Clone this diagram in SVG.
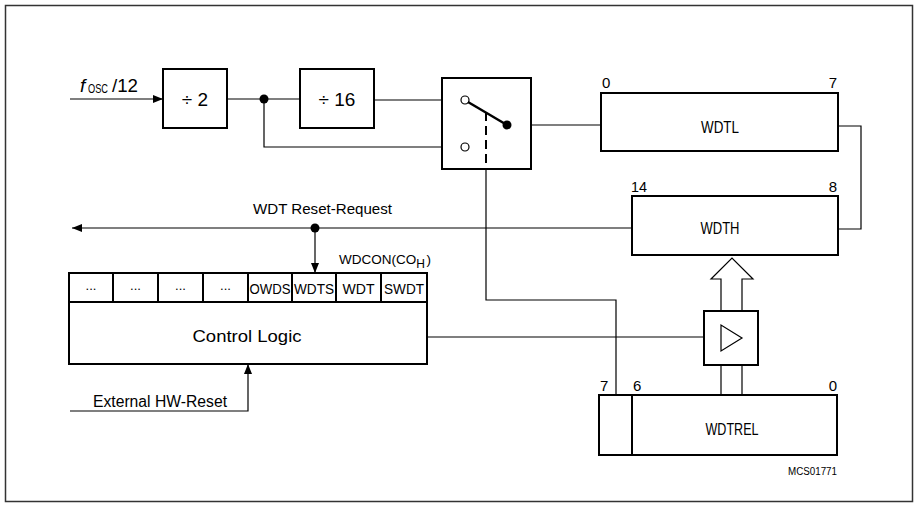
<svg xmlns="http://www.w3.org/2000/svg" width="921" height="505" viewBox="0 0 921 505">
<defs>
<style>
.box{fill:#fff;stroke:#000;stroke-width:2}
.ln{fill:none;stroke:#000;stroke-width:1.2}
.t{font-family:"Liberation Sans",Arial,sans-serif;fill:#000}
</style>
<marker id="ah" viewBox="0 0 10 8" refX="10" refY="4" markerWidth="10" markerHeight="8" markerUnits="userSpaceOnUse" orient="auto">
<path d="M0,0 L10,4 L0,8 Z" fill="#000"/>
</marker>
</defs>
<rect x="0" y="0" width="921" height="505" fill="#fff"/>
<rect x="5.5" y="5.5" width="907" height="496" fill="none" stroke="#333" stroke-width="1.5"/>

<g id="connectors">
<line class="ln" x1="70" y1="99" x2="163" y2="99" marker-end="url(#ah)"/>
<line class="ln" x1="227" y1="99" x2="300" y2="99"/>
<polyline class="ln" points="264,99 264,147 461,147"/>
<line class="ln" x1="374" y1="100" x2="461" y2="100"/>
<line class="ln" x1="507" y1="125" x2="601" y2="125"/>
<polyline class="ln" points="838,126 861,126 861,229 838,229"/>
<line class="ln" x1="632" y1="228" x2="72" y2="228" marker-end="url(#ah)"/>
<line class="ln" x1="315" y1="228" x2="315" y2="273" marker-end="url(#ah)"/>
<polyline class="ln" points="486,169 486,300 616,300 616,395"/>
<line class="ln" x1="427" y1="337" x2="704" y2="337"/>
<polyline class="ln" points="70,411 248,411 248,364" marker-end="url(#ah)"/>
<path d="M721,311 L721,279 L711,279 L732,258 L753,279 L742,279 L742,311" fill="#fff" stroke="#000" stroke-width="1.2"/>
<line class="ln" x1="721" y1="365" x2="721" y2="395"/>
<line class="ln" x1="742" y1="365" x2="742" y2="395"/>
<circle cx="264" cy="99" r="4.5" fill="#000"/>
<circle cx="315" cy="228" r="4.5" fill="#000"/>
</g>

<g id="input-label">
<text class="t" x="80" y="92" font-size="19" font-style="italic">f</text>
<text class="t" x="88" y="93" font-size="12" textLength="20" lengthAdjust="spacingAndGlyphs">OSC</text>
<text class="t" x="112" y="92" font-size="18" textLength="26" lengthAdjust="spacingAndGlyphs">/12</text>
</g>

<g id="div2">
<rect class="box" x="163" y="69" width="64" height="59"/>
<text class="t" x="195" y="106" font-size="19" text-anchor="middle">÷ 2</text>
</g>

<g id="div16">
<rect class="box" x="300" y="69" width="74" height="59"/>
<text class="t" x="337" y="106" font-size="19" text-anchor="middle">÷ 16</text>
</g>

<g id="switch">
<rect class="box" x="442" y="78" width="89" height="91"/>
<line x1="486" y1="112" x2="486" y2="169" stroke="#000" stroke-width="2" stroke-dasharray="9,5"/>
<circle cx="465" cy="100" r="4" fill="#fff" stroke="#000" stroke-width="1.2"/>
<circle cx="465" cy="147" r="4" fill="#fff" stroke="#000" stroke-width="1.2"/>
<line x1="468" y1="102" x2="507" y2="125" stroke="#000" stroke-width="2.5"/>
<circle cx="507" cy="125" r="4.5" fill="#000"/>
</g>

<g id="wdtl">
<rect class="box" x="601" y="93" width="237" height="58"/>
<text class="t" x="720" y="133" font-size="16" text-anchor="middle" textLength="38" lengthAdjust="spacingAndGlyphs">WDTL</text>
<text class="t" x="602" y="88" font-size="15">0</text>
<text class="t" x="837" y="88" font-size="15" text-anchor="end">7</text>
</g>

<g id="wdth">
<rect class="box" x="632" y="196" width="206" height="59"/>
<text class="t" x="720" y="234" font-size="16" text-anchor="middle" textLength="39" lengthAdjust="spacingAndGlyphs">WDTH</text>
<text class="t" x="631" y="192" font-size="15" textLength="16" lengthAdjust="spacingAndGlyphs">14</text>
<text class="t" x="837" y="192" font-size="15" text-anchor="end">8</text>
</g>

<g id="reset-label">
<text class="t" x="253" y="214" font-size="15" textLength="139" lengthAdjust="spacingAndGlyphs">WDT  Reset-Request</text>
</g>

<g id="wdcon">
<text class="t" x="339" y="264" font-size="13.5">WDCON(CO<tspan dy="4" font-size="12">H</tspan><tspan dx="1.5" dy="-4">)</tspan></text>
<rect class="box" x="69" y="273" width="358" height="91"/>
<line x1="69" y1="302" x2="427" y2="302" stroke="#000" stroke-width="2"/>
<g stroke="#000" stroke-width="2">
<line x1="113" y1="273" x2="113" y2="302"/>
<line x1="158" y1="273" x2="158" y2="302"/>
<line x1="203" y1="273" x2="203" y2="302"/>
<line x1="248" y1="273" x2="248" y2="302"/>
<line x1="292" y1="273" x2="292" y2="302"/>
<line x1="336" y1="273" x2="336" y2="302"/>
<line x1="381" y1="273" x2="381" y2="302"/>
</g>
<g class="t" font-size="13" text-anchor="middle">
<text x="91" y="290">...</text>
<text x="135.5" y="290">...</text>
<text x="180.5" y="290">...</text>
<text x="225.5" y="290">...</text>
</g>
<text class="t" x="270" y="294" font-size="14" text-anchor="middle" textLength="41" lengthAdjust="spacingAndGlyphs">OWDS</text>
<text class="t" x="314" y="294" font-size="14" text-anchor="middle" textLength="40" lengthAdjust="spacingAndGlyphs">WDTS</text>
<text class="t" x="358.5" y="294" font-size="14" text-anchor="middle" textLength="32" lengthAdjust="spacingAndGlyphs">WDT</text>
<text class="t" x="404" y="294" font-size="14" text-anchor="middle" textLength="40" lengthAdjust="spacingAndGlyphs">SWDT</text>
<text class="t" x="247" y="342" font-size="17" text-anchor="middle" textLength="109" lengthAdjust="spacingAndGlyphs">Control  Logic</text>
</g>

<g id="ext-reset">
<text class="t" x="93" y="407" font-size="16" textLength="134" lengthAdjust="spacingAndGlyphs">External  HW-Reset</text>
</g>

<g id="buffer">
<rect class="box" x="704" y="311" width="54" height="54"/>
<polygon points="721,325 721,351 742,338" fill="none" stroke="#000" stroke-width="1.2"/>
</g>

<g id="wdtrel">
<rect class="box" x="599" y="395" width="238" height="60"/>
<line x1="632" y1="395" x2="632" y2="455" stroke="#000" stroke-width="2"/>
<text class="t" x="732" y="435" font-size="16" text-anchor="middle" textLength="53" lengthAdjust="spacingAndGlyphs">WDTREL</text>
<text class="t" x="600" y="391" font-size="15">7</text>
<text class="t" x="633" y="391" font-size="15">6</text>
<text class="t" x="837" y="391" font-size="15" text-anchor="end">0</text>
<text class="t" x="837" y="475" font-size="10" text-anchor="end" textLength="49" lengthAdjust="spacingAndGlyphs">MCS01771</text>
</g>
</svg>
